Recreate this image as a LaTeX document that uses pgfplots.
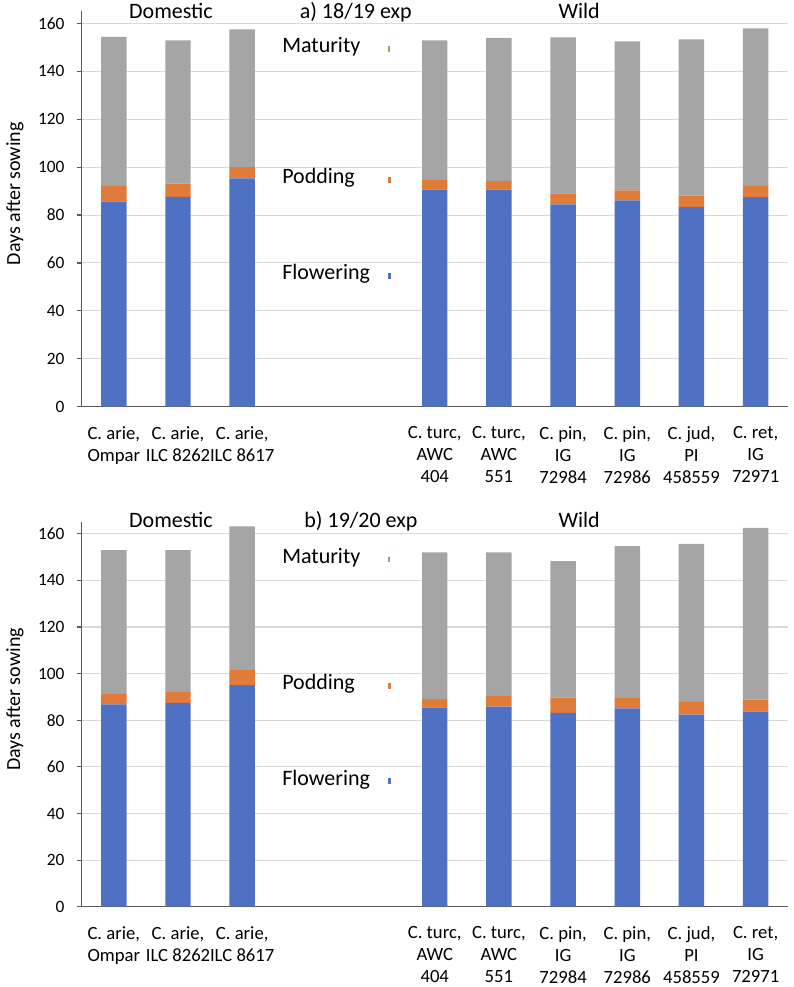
\documentclass[border=0pt]{standalone}
\usepackage{fontspec}
\setmainfont{Carlito}
\usepackage{pgfplots}
\usepackage{pgfplotstable}
\pgfplotsset{compat=1.18}
\definecolor{cblue}{HTML}{4F71C4}
\definecolor{corange}{HTML}{E07B39}
\definecolor{cgray}{HTML}{A5A5A5}
\definecolor{cgreen}{HTML}{7FB842}
\definecolor{axcol}{HTML}{595959}
\definecolor{gridcol}{HTML}{D9D9D9}

\pgfplotstableread{
x flow pod mat
0 85.6 92.2 154.4
1 87.6 93.1 152.9
2 95.3 100.0 157.5
5 90.6 94.7 152.9
6 90.6 94.3 153.9
7 84.5 89.0 154.2
8 86.1 90.3 152.5
9 83.3 88.1 153.3
10 87.5 92.2 157.9
}\toptable

\pgfplotstableread{
x flow pod mat
0 86.8 91.2 153.0
1 87.4 92.2 153.0
2 95.1 101.5 163.2
5 85.4 89.1 152.0
6 85.8 90.4 152.0
7 83.2 89.7 148.2
8 85.1 89.5 154.7
9 82.4 87.9 155.6
10 83.7 88.8 162.5
}\bottable

\pgfplotsset{
  panel/.style={
    scale only axis, width=529.5pt,
    xmin=-0.5, xmax=10.5, ymin=0, ymax=165,
    ybar stacked, bar width=19.1pt,
    axis x line=bottom, axis y line=left,
    axis line style={-, draw=axcol, line width=0.9pt},
    ytick={0,20,...,160}, ymajorgrids,
    grid style={draw=gridcol, line width=0.8pt},
    xtick={0,1,2,5,6,7,8,9,10},
    xticklabels={{C. arie,\\Ompar},{C. arie,\\ILC 8262},{C. arie,\\ILC 8617},{C. turc,\\AWC\\404},{C. turc,\\AWC\\551},{C. pin,\\IG\\72984},{C. pin,\\IG\\72986},{C. jud,\\PI\\458559},{C. ret,\\IG\\72971}},
    x tick style={draw=none},
    y tick style={draw=axcol, line width=0.9pt},
    major tick length=3.5pt, tick align=outside,
    /pgf/number format/assume math mode=true,
    yticklabel style={font=\fontsize{13}{15}\selectfont, xshift=-6pt},
    xticklabel style={font=\fontsize{14}{16.3}\selectfont, align=center, anchor=north, yshift=-8pt},
    ylabel={Days after sowing},
    every axis y label/.style={at={(axis description cs:-0.0944,0.539)}, rotate=90, anchor=center, font=\fontsize{15}{18}\selectfont},
    clip=false,
  },
}
\tikzset{
  lab/.style={anchor=base west, font=\fontsize{16.5}{19}\selectfont, inner sep=0pt},
  ttl/.style={anchor=base, font=\fontsize{16.5}{19}\selectfont, inner sep=0pt},
}

\begin{document}
\begin{tikzpicture}
\path[use as bounding box] (0,0) rectangle (594.75pt,740.25pt);

\begin{axis}[panel, height=296.5pt, at={(61.3pt,435.2pt)}, anchor=south west]
\addplot[fill=cblue, draw=none] table[x=x, y=flow] {\toptable};
\addplot[fill=corange, draw=none] table[x=x, y expr=\thisrow{pod}-\thisrow{flow}] {\toptable};
\addplot[fill=cgray, draw=none] table[x=x, y expr=\thisrow{mat}-\thisrow{pod}] {\toptable};
\node[ttl] at (axis cs:0.89,162.2) {Domestic};
\node[ttl] at (axis cs:3.77,162.2) {a) 18/19 exp};
\node[ttl] at (axis cs:7.25,162.2) {Wild};
\node[lab] at (axis cs:2.62,147.7) {\makebox[79.5pt][l]{Maturity}\textcolor{cgreen}{\rule[0.8pt]{1.6pt}{4pt}}};
\node[lab] at (axis cs:2.62,93.2) {\makebox[79.5pt][l]{Podding}\textcolor{corange}{\rule[0.6pt]{2pt}{4.4pt}}};
\node[lab] at (axis cs:2.62,52.9) {\makebox[79.5pt][l]{Flowering}\textcolor{cblue}{\rule[0.6pt]{2pt}{4.4pt}}};
\end{axis}

\begin{axis}[panel, height=288.5pt, at={(61.3pt,60.2pt)}, anchor=south west]
\addplot[fill=cblue, draw=none] table[x=x, y=flow] {\bottable};
\addplot[fill=corange, draw=none] table[x=x, y expr=\thisrow{pod}-\thisrow{flow}] {\bottable};
\addplot[fill=cgray, draw=none] table[x=x, y expr=\thisrow{mat}-\thisrow{pod}] {\bottable};
\node[ttl] at (axis cs:0.89,162.5) {Domestic};
\node[ttl] at (axis cs:3.85,162.5) {b) 19/20 exp};
\node[ttl] at (axis cs:7.25,162.5) {Wild};
\node[lab] at (axis cs:2.62,147.3) {\makebox[79.5pt][l]{Maturity}\textcolor{cgreen}{\rule[0.8pt]{1.6pt}{4pt}}};
\node[lab] at (axis cs:2.62,93.0) {\makebox[79.5pt][l]{Podding}\textcolor{corange}{\rule[0.6pt]{2pt}{4.4pt}}};
\node[lab] at (axis cs:2.62,52.2) {\makebox[79.5pt][l]{Flowering}\textcolor{cblue}{\rule[0.6pt]{2pt}{4.4pt}}};
\end{axis}
\end{tikzpicture}
\end{document}
